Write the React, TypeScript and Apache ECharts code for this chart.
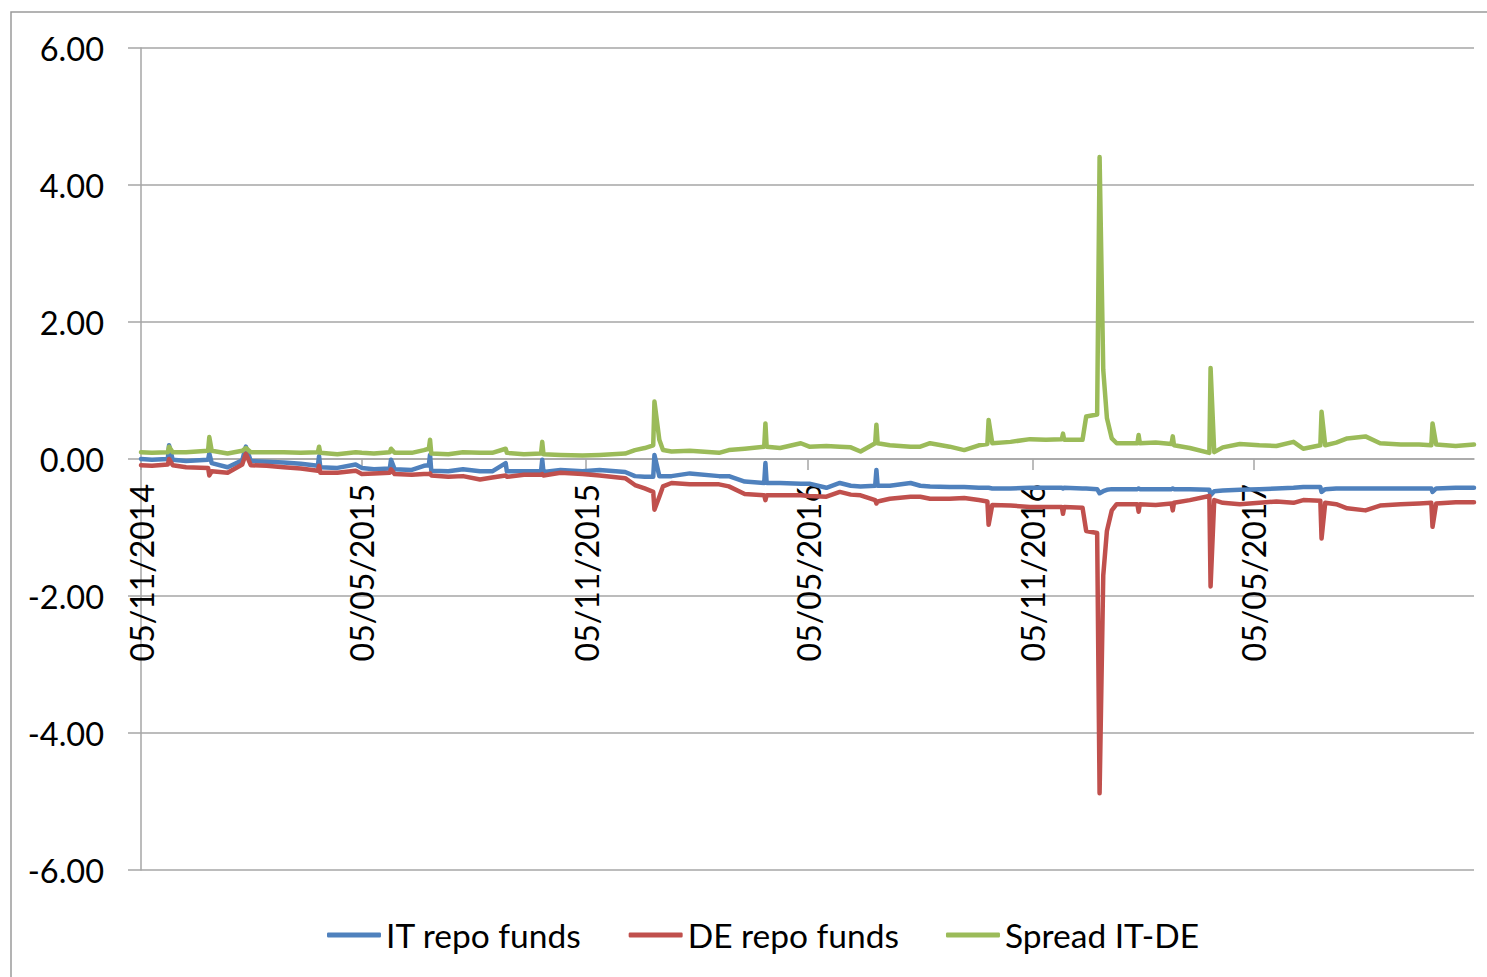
import React, { useEffect, useRef } from "react";
import * as echarts from "echarts";

const dates = [
  "2014-11-05", "2014-11-14", "2014-11-27", "2014-11-28", "2014-12-01", "2014-12-12", "2014-12-30", "2014-12-31",
  "2015-01-02", "2015-01-15", "2015-01-27", "2015-01-30", "2015-02-03", "2015-02-16", "2015-03-02", "2015-03-16",
  "2015-03-30", "2015-03-31", "2015-04-01", "2015-04-15", "2015-04-30", "2015-05-05", "2015-05-15", "2015-05-28",
  "2015-05-29", "2015-06-01", "2015-06-15", "2015-06-25", "2015-06-29", "2015-06-30", "2015-07-01", "2015-07-15",
  "2015-07-27", "2015-08-10", "2015-08-20", "2015-08-31", "2015-09-01", "2015-09-15", "2015-09-29", "2015-09-30",
  "2015-10-01", "2015-10-15", "2015-11-02", "2015-11-16", "2015-12-07", "2015-12-15", "2015-12-23", "2015-12-30",
  "2015-12-31", "2016-01-04", "2016-01-07", "2016-01-14", "2016-01-29", "2016-02-22", "2016-03-01", "2016-03-14",
  "2016-03-30", "2016-03-31", "2016-04-01", "2016-04-12", "2016-04-29", "2016-05-06", "2016-05-20", "2016-05-31",
  "2016-06-09", "2016-06-17", "2016-06-29", "2016-06-30", "2016-07-01", "2016-07-11", "2016-07-28", "2016-08-05",
  "2016-08-13", "2016-08-29", "2016-09-10", "2016-09-22", "2016-09-29", "2016-09-30", "2016-10-03", "2016-10-18",
  "2016-11-03", "2016-11-16", "2016-11-29", "2016-11-30", "2016-12-01", "2016-12-16", "2016-12-19", "2016-12-28",
  "2016-12-30", "2017-01-02", "2017-01-05", "2017-01-09", "2017-01-13", "2017-01-30", "2017-01-31", "2017-02-01",
  "2017-02-14", "2017-02-27", "2017-02-28", "2017-03-01", "2017-03-14", "2017-03-30", "2017-03-31", "2017-04-03",
  "2017-04-10", "2017-04-24", "2017-05-10", "2017-05-24", "2017-06-07", "2017-06-15", "2017-06-29", "2017-06-30",
  "2017-07-03", "2017-07-12", "2017-07-21", "2017-08-05", "2017-08-17", "2017-09-03", "2017-09-18", "2017-09-28",
  "2017-09-29", "2017-10-02", "2017-10-18", "2017-11-02",
];

const itRepoFunds = [
  0.0, -0.01, 0.0, 0.2, -0.01, -0.03, -0.01, 0.08,
  -0.06, -0.12, -0.02, 0.18, -0.03, -0.04, -0.05, -0.07,
  -0.1, 0.04, -0.12, -0.13, -0.08, -0.13, -0.15, -0.14,
  -0.01, -0.15, -0.16, -0.1, -0.09, 0.06, -0.17, -0.18,
  -0.15, -0.18, -0.18, -0.06, -0.18, -0.18, -0.18, -0.01,
  -0.19, -0.16, -0.18, -0.16, -0.19, -0.25, -0.26, -0.26,
  0.06, -0.25, -0.25, -0.25, -0.21, -0.25, -0.25, -0.33,
  -0.35, -0.06, -0.35, -0.35, -0.36, -0.36, -0.42, -0.35,
  -0.39, -0.4, -0.39, -0.16, -0.39, -0.39, -0.35, -0.39,
  -0.4, -0.41, -0.41, -0.42, -0.42, -0.42, -0.43, -0.43,
  -0.42, -0.42, -0.42, -0.43, -0.42, -0.43, -0.43, -0.44,
  -0.5, -0.47, -0.45, -0.44, -0.44, -0.44, -0.43, -0.44,
  -0.44, -0.44, -0.43, -0.44, -0.44, -0.45, -0.53, -0.47,
  -0.46, -0.45, -0.44, -0.43, -0.42, -0.41, -0.41, -0.48,
  -0.44, -0.43, -0.43, -0.43, -0.43, -0.43, -0.43, -0.43,
  -0.48, -0.43, -0.42, -0.42,
];

const deRepoFunds = [
  -0.09, -0.1, -0.08, 0.0, -0.09, -0.12, -0.13, -0.24,
  -0.18, -0.2, -0.08, 0.08, -0.09, -0.1, -0.12, -0.14,
  -0.17, -0.1, -0.2, -0.2, -0.17, -0.22, -0.21, -0.2,
  -0.15, -0.22, -0.23, -0.22, -0.22, -0.21, -0.24, -0.26,
  -0.25, -0.3, -0.27, -0.24, -0.26, -0.23, -0.23, -0.22,
  -0.24, -0.2, -0.22, -0.24, -0.28, -0.38, -0.43, -0.48,
  -0.74, -0.55, -0.4, -0.35, -0.37, -0.37, -0.4, -0.51,
  -0.53, -0.6, -0.53, -0.53, -0.53, -0.54, -0.55, -0.48,
  -0.52, -0.53, -0.6, -0.65, -0.62, -0.58, -0.55, -0.55,
  -0.58, -0.58, -0.57, -0.6, -0.62, -0.96, -0.67, -0.68,
  -0.7, -0.7, -0.7, -0.8, -0.7, -0.71, -1.05, -1.08,
  -4.88, -1.7, -1.05, -0.75, -0.66, -0.66, -0.77, -0.66,
  -0.67, -0.65, -0.75, -0.64, -0.6, -0.54, -1.86, -0.6,
  -0.64, -0.66, -0.64, -0.62, -0.64, -0.6, -0.61, -1.16,
  -0.64, -0.66, -0.72, -0.75, -0.68, -0.66, -0.65, -0.64,
  -0.99, -0.65, -0.63, -0.63,
];

const spreadItDe = [
  0.1, 0.09, 0.1, 0.18, 0.1, 0.1, 0.12, 0.32,
  0.12, 0.08, 0.12, 0.16, 0.1, 0.1, 0.1, 0.09,
  0.1, 0.18, 0.09, 0.07, 0.1, 0.09, 0.08, 0.1,
  0.15, 0.09, 0.09, 0.13, 0.15, 0.28, 0.08, 0.07,
  0.1, 0.09, 0.09, 0.15, 0.09, 0.07, 0.08, 0.25,
  0.07, 0.06, 0.05, 0.06, 0.08, 0.13, 0.16, 0.2,
  0.84, 0.28, 0.13, 0.11, 0.12, 0.09, 0.13, 0.15,
  0.18, 0.52, 0.18, 0.16, 0.23, 0.18, 0.19, 0.18,
  0.17, 0.11, 0.23, 0.5, 0.23, 0.2, 0.18, 0.18,
  0.23, 0.18, 0.13, 0.2, 0.22, 0.57, 0.23, 0.25,
  0.29, 0.28, 0.29, 0.37, 0.28, 0.28, 0.62, 0.65,
  4.41, 1.3, 0.6, 0.3, 0.23, 0.23, 0.35, 0.23,
  0.24, 0.22, 0.33, 0.2, 0.16, 0.09, 1.33, 0.1,
  0.17, 0.22, 0.2, 0.19, 0.25, 0.15, 0.2, 0.69,
  0.2, 0.24, 0.3, 0.33, 0.23, 0.21, 0.21, 0.2,
  0.52, 0.21, 0.19, 0.21,
];

const xLabelDates = ["2014-11-05", "2015-05-05", "2015-11-05", "2016-05-05", "2016-11-05", "2017-05-05"];
const xStart = "2014-11-05";
const xEnd = "2017-11-02";
const seriesNames = ["IT repo funds", "DE repo funds", "Spread IT-DE"];
const seriesColors = ["#4F81BD", "#C0504D", "#9BBB59"];

function toTime(s: string): number {
  const [y, m, d] = s.split("-").map(Number);
  return Date.UTC(y, m - 1, d);
}

function fmtDate(v: number): string {
  const dt = new Date(v);
  const dd = String(dt.getUTCDate()).padStart(2, "0");
  const mm = String(dt.getUTCMonth() + 1).padStart(2, "0");
  return `${dd}/${mm}/${dt.getUTCFullYear()}`;
}

export default function App() {
  const ref = useRef<HTMLDivElement>(null);

  useEffect(() => {
    if (!ref.current) return;
    const chart = echarts.init(ref.current, undefined, { renderer: "svg" });
    const font = "Lato, 'Open Sans', sans-serif";
    const gray = "#A6A6A6";
    const valueSets = [itRepoFunds, deRepoFunds, spreadItDe];
    const tickTimes = xLabelDates.map(toTime);
    const gridTop = 48;
    const gridBottom = 107;
    const plotHeight = 977 - gridTop - gridBottom;
    // zero lies in the middle of the symmetric -6..6 range: shift the whole x axis up to it
    const zeroOffset = -plotHeight / 2;

    chart.setOption({
      animation: false,
      backgroundColor: "#ffffff",
      graphic: [
        {
          type: "rect",
          shape: { x: 11, y: 12, width: 1600, height: 1100 },
          style: { fill: "none", stroke: "#9A9A9A", lineWidth: 1.5 },
          silent: true,
        },
      ],
      grid: { left: 141, top: gridTop, right: 13, bottom: gridBottom, containLabel: false, outerBoundsMode: "none" },
      legend: {
        left: 322,
        top: 908,
        itemWidth: 54,
        itemHeight: 5,
        itemGap: 47,
        icon: "roundRect",
        textStyle: { fontFamily: font, fontSize: 33.5, color: "#000", lineHeight: 44 },
        data: seriesNames,
      },
      xAxis: {
        type: "value",
        position: "bottom",
        offset: zeroOffset,
        min: toTime(xStart),
        max: toTime(xEnd),
        axisLine: { onZero: false, lineStyle: { color: gray, width: 1.5 } },
        axisTick: { show: true, length: 11, customValues: tickTimes, lineStyle: { color: gray, width: 1.5 } },
        axisLabel: {
          customValues: tickTimes,
          rotate: 90,
          margin: 25,
          formatter: (v: number) => fmtDate(v),
          fontFamily: font,
          fontSize: 32,
          color: "#000",
          showMinLabel: true,
          hideOverlap: false,
        },
        splitLine: { show: false },
      },
      yAxis: {
        type: "value",
        min: -6,
        max: 6,
        interval: 2,
        axisLine: { show: true, lineStyle: { color: gray, width: 1.5 } },
        axisTick: { show: true, length: 13, lineStyle: { color: gray, width: 1.5 } },
        axisLabel: {
          margin: 37,
          formatter: (v: number) => v.toFixed(2),
          fontFamily: font,
          fontSize: 32.5,
          color: "#000",
        },
        splitLine: { show: true, lineStyle: { color: gray, width: 1.5 } },
      },
      series: seriesNames.map((name, k) => ({
        name,
        type: "line",
        showSymbol: false,
        symbol: "none",
        color: seriesColors[k],
        lineStyle: { width: 4.5, color: seriesColors[k], join: "round", cap: "round" },
        data: dates.map((d, i) => [toTime(d), valueSets[k][i]]),
      })),
    });

    return () => chart.dispose();
  }, []);

  return (
    <div
      ref={ref}
      style={{ position: "fixed", left: 0, top: 0, width: 1487, height: 977 }}
    />
  );
}
